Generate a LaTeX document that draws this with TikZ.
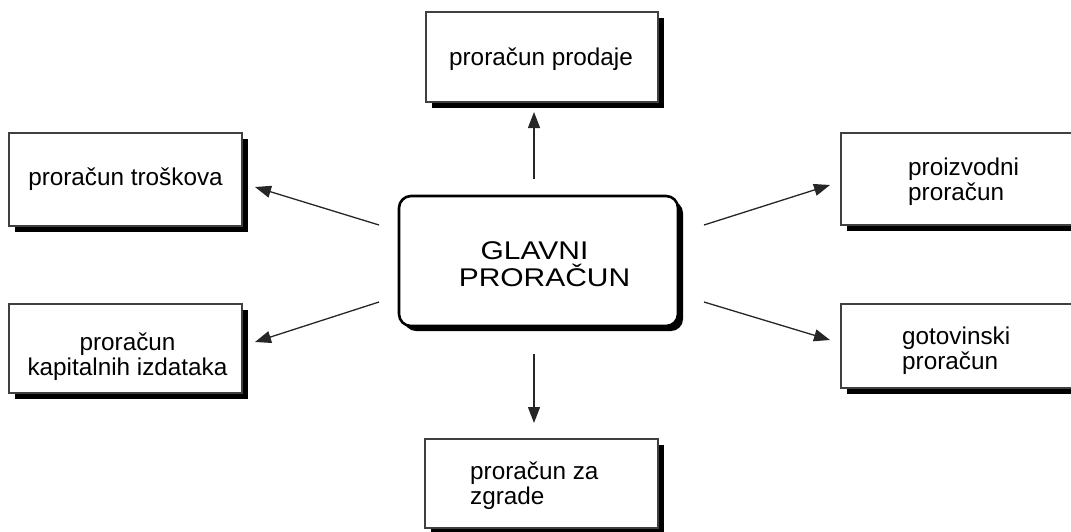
\documentclass[tikz,border=0pt]{standalone}
\usepackage{fontspec}
\setmainfont{Liberation Sans}
\newfontfamily\widesans{Liberation Sans}[FakeStretch=1.17]
\usetikzlibrary{arrows.meta,shadows}
\begin{document}
\begin{tikzpicture}[x=1pt,y=-1pt,
  box/.style={draw=black!75, line width=1.2pt, fill=white, inner sep=0pt, outer sep=0pt,
    drop shadow={shadow xshift=6pt, shadow yshift=-6pt, fill=black, opacity=1}},
  txt/.style={font=\fontsize{24.3}{25}\selectfont, align=center, inner sep=0pt},
  ltxt/.style={txt, align=left, anchor=west},
  mainbox/.style={draw=black, line width=2.6pt, rounded corners=12pt, fill=white,
    inner sep=0pt, outer sep=0pt, minimum width=279pt, minimum height=130pt,
    drop shadow={shadow xshift=5pt, shadow yshift=-5pt, fill=black, opacity=1}},
  arr/.style={draw=black!85, line width=1.3pt, -{Triangle[length=16pt,width=12pt]}}
]
\useasboundingbox (0,0) rectangle (1071,531);

% central budget
\node[mainbox] (main) at (538.5,261) {};
\node[txt, font=\widesans\fontsize{25.6}{26.7}\selectfont] (mainlbl)
  at ([shift={(6,3)}]main.center) {GLAVNI\hspace*{20pt}\\PRORAČUN};

% surrounding budget boxes
\node[box, minimum width=232pt, minimum height=90pt] (top) at (542,57) {};
\node[box, minimum width=233pt, minimum height=93pt] (tl) at (125.5,179.5) {};
\node[box, minimum width=233pt, minimum height=89pt] (bl) at (125.5,348.5) {};
\node[box, minimum width=234pt, minimum height=92pt] (tr) at (958,179) {};
\node[box, minimum width=234pt, minimum height=84pt] (br) at (958,346) {};
\node[box, minimum width=233pt, minimum height=89pt] (bot) at (541.5,483.5) {};

% their labels
\node[txt] (toplbl) at ([shift={(-1,2)}]top.center) {proračun prodaje};
\node[txt] (tllbl) at ([shift={(0,0)}]tl.center) {proračun troškova};
\node[txt] (bllbl) at ([shift={(2,8)}]bl.center) {proračun\\kapitalnih izdataka};
\node[ltxt] (trlbl) at ([shift={(67,3)}]tr.west) {proizvodni\\proračun};
\node[ltxt] (brlbl) at ([shift={(61,5)}]br.west) {gotovinski\\proračun};
\node[ltxt] (botlbl) at ([shift={(45,2)}]bot.west) {proračun za\\zgrade};

% connectors
\draw[arr] ([shift={(-4.5,-17)}]main.north) -- ([shift={(-8,10)}]top.south);
\draw[arr] ([shift={(-4.5,28)}]main.south) -- ([shift={(-7.5,-16)}]bot.north);
\draw[arr] ([shift={(-20,-36)}]main.west) -- ([shift={(13,7.5)}]tl.east);
\draw[arr] ([shift={(-20,41)}]main.west) -- ([shift={(13,-6.5)}]bl.east);
\draw[arr] ([shift={(26,-36)}]main.east) -- ([shift={(-11,6)}]tr.west);
\draw[arr] ([shift={(26,41)}]main.east) -- ([shift={(-11,-6)}]br.west);
\end{tikzpicture}
\end{document}
